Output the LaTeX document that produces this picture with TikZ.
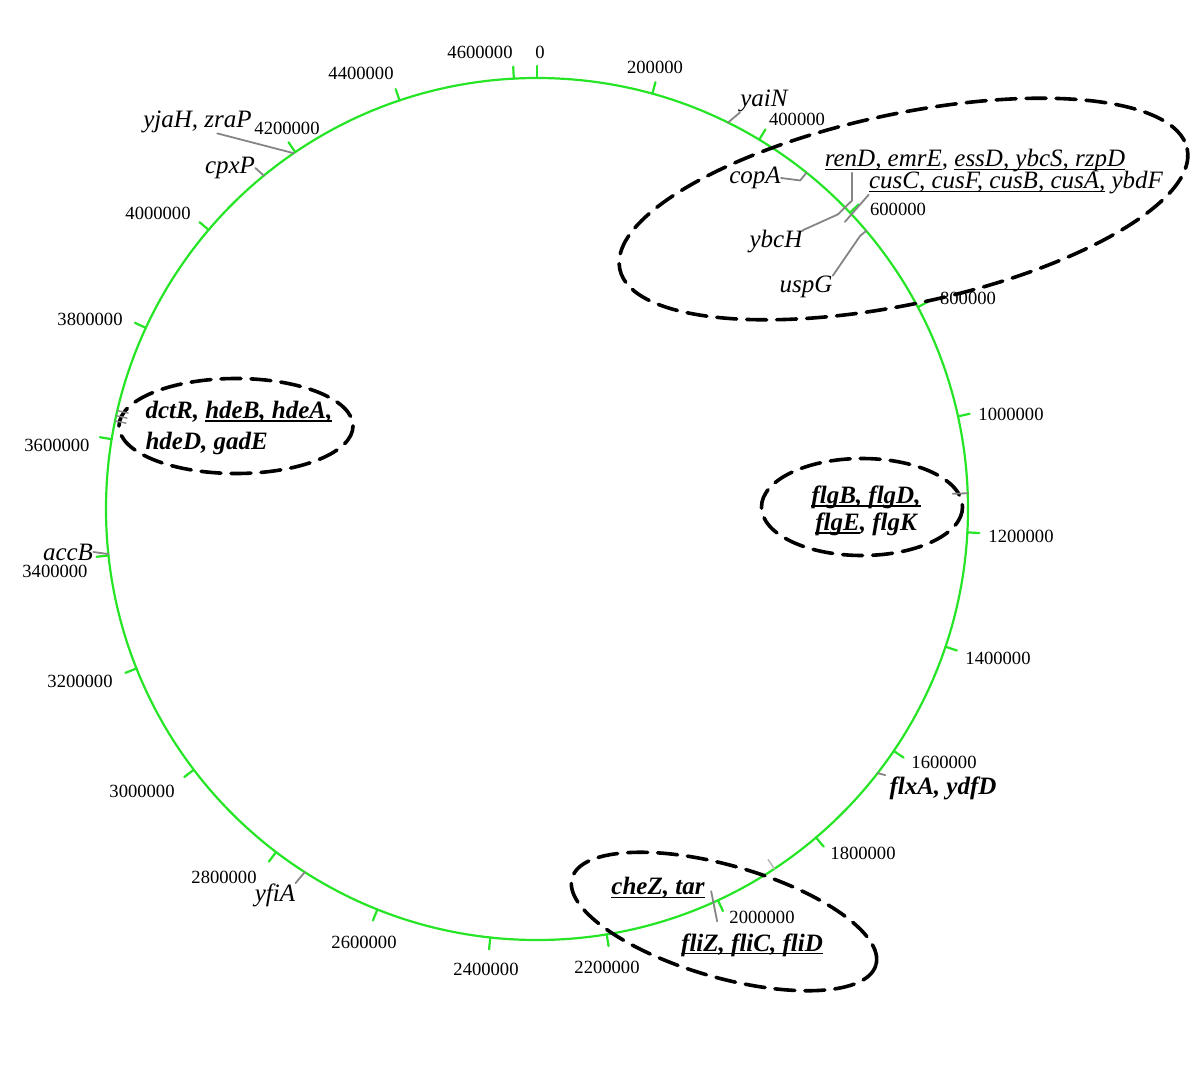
\documentclass[tikz,border=0pt]{standalone}
\usepackage{fontspec}
\setmainfont{Liberation Serif}
\newsavebox{\gulbox}
\newcommand{\gul}[1]{\sbox{\gulbox}{#1}\rlap{\rule[-1.6pt]{\wd\gulbox}{0.7pt}}\usebox{\gulbox}}
\definecolor{qqeeqq}{rgb}{0.15,0.9,0.15}
\definecolor{zzzzzz}{rgb}{0.52,0.52,0.52}
\definecolor{cccccc}{rgb}{0.72,0.72,0.72}

\begin{document}
\begin{tikzpicture}[line cap=round,line join=round,x=0.5pt,y=-0.5pt,
	gtick/.style={line width=1.1pt,color=qqeeqq},
	gline/.style={line width=0.9pt,color=zzzzzz},
	num/.style={inner sep=0pt,font=\fontsize{9.3}{11}\selectfont},
	gene/.style={inner sep=0pt,font=\fontsize{12.5}{15.5}\selectfont\itshape},
	bgene/.style={inner sep=0pt,font=\fontsize{12.5}{15.5}\selectfont\bfseries\itshape},
	oval/.style={line width=1.8pt,dash pattern=on 10pt off 5pt}]
		\useasboundingbox (0,0) rectangle (1200,1071);
		\draw [line width=1.1pt,color=qqeeqq] (537,509) circle (431);
		\foreach \p/\lx/\ly/\txt in {0/540/52/0,200/655/67/200000,400/797/119/400000,600/898/209/600000,800/968/298/800000,1000/1011/414/1000000,1200/1021/536/1200000,1400/998/658/1400000,1600/944/762/1600000,1800/863/853/1800000,2000/762/917/2000000,2200/607/967/2200000,2400/486/969/2400000,2600/364/942/2600000,2800/224/877/2800000,3000/142/791/3000000,3200/80/681/3200000,3400/55/571/3400000,3600/57/445/3600000,3800/90/319/3800000,4000/158/213/4000000,4200/287/128/4200000,4400/361/73/4400000,4600/480/52/4600000}
		{
			\draw [gtick,shift={(537,509)}] ({\p*0.0775916-90}:431) -- ({\p*0.0775916-90}:443);
			\node [num] (n\p) at (\lx,\ly) {\txt};
		}
		\path [shift={(537,509)}] (-63.7:431) coordinate (cyaiN) (-51.3:431) coordinate (ccopA) (-51.3:421) coordinate (kcopA)
			(-44.4:431) coordinate (cren) (-44.4:441) coordinate (kren) (-44.4:421) coordinate (kybcH)
			(-43:421) coordinate (kcus) (-40.2:431) coordinate (cuspG) (-40.2:423) coordinate (kuspG)
			(-2.1:431) coordinate (cflg) (-2.1:416) coordinate (kflg) (37.8:431) coordinate (cflxA)
			(56.6:431) coordinate (cgr) (56.6:420) coordinate (kgr) (65.5:420) coordinate (kcheI) (66.4:450) coordinate (kcheO)
			(122.6:431) coordinate (cyfiA) (174:431) coordinate (caccB)
			(191.8:431) coordinate (cdA) (191.8:420) coordinate (kdA) (192.5:431) coordinate (cdB) (192.5:420) coordinate (kdB)
			(193.2:431) coordinate (cdC) (193.2:420) coordinate (kdC)
			(230.67:431) coordinate (ccpxP) (235.64:431) coordinate (cyjaH);
		\draw [oval,rotate around={12:(903.5,209)}] (903.5,209) ellipse [x radius=290,y radius=95];
		\draw [oval] (236,426) ellipse [x radius=117,y radius=47.5];
		\draw [oval] (862,507) ellipse [x radius=100.5,y radius=48.5];
		\draw [oval,rotate around={-16:(724,921.5)}] (724,921.5) ellipse [x radius=158,y radius=56];
		\node [gene] (lyaiN) at (764,101) {yaiN};
		\node [gene] (lcopA) at (755,178) {copA};
		\node [gene] (lrenD) at (975,161) {\gul{renD, emrE}, \gul{essD, ybcS, rzpD}};
		\node [gene] (lcus) at (1016,183) {\gul{cusC, cusF, cusB, cusA,} ybdF};
		\node [gene] (lybcH) at (776,242) {ybcH};
		\node [gene] (luspG) at (806,287) {uspG};
		\node [gene] (lyjaH) at (197.5,122) {yjaH, zraP};
		\node [gene] (lcpxP) at (230,168) {cpxP};
		\node [gene] (laccB) at (68,552) {accB};
		\node [gene] (lyfiA) at (275,895) {yfiA};
		\node [bgene,align=left] (ldctR) at (239,428) {dctR, \gul{hdeB, hdeA,}\\hdeD, gadE};
		\node [bgene,align=center,font=\fontsize{12.5}{13.5}\selectfont\bfseries\itshape] (lflg) at (866,511) {\gul{flgB, flgD,}\\\gul{flgE}, flgK};
		\node [bgene] (lflxA) at (943,788) {flxA, ydfD};
		\node [bgene] (lche) at (658,888) {\gul{cheZ, tar}};
		\node [bgene] (lfli) at (752,945) {\gul{fliZ, fliC, fliD}};
		\draw [gline] (cyaiN) -- (lyaiN.south west);
		\draw [gline] (lcopA.east) -- (kcopA) -- (ccopA);
		\draw [gline] (lrenD.south -| kren) -- (kren) -- (cren);
		\draw [gline] (lybcH.north east) -- (kybcH) -- (cren);
		\draw [gline] (lcus.south west) -- (kcus);
		\draw [gline] (luspG.north east) -- (kuspG) -- (cuspG);
		\draw [gline] (lyjaH.-30) -- (cyjaH);
		\draw [gline] (lcpxP.east) -- (ccpxP);
		\draw [gline] (laccB.east) -- (caccB);
		\draw [gline] (cyfiA) -- (lyfiA.north east);
		\draw [gline,shorten >=2pt] (cflxA) -- (lflxA.north west);
		\draw [gline] (cflg) -- (kflg);
		\draw [gline] (kcheI) -- (kcheO);
		\draw [line width=0.8pt,color=cccccc] (cgr) -- (kgr);
		\draw [gline,line width=0.7pt] (cdA) -- (kdA);
		\draw [gline,line width=0.7pt] (cdB) -- (kdB);
		\draw [gline,line width=0.7pt] (cdC) -- (kdC);
	\end{tikzpicture}
\end{document}
